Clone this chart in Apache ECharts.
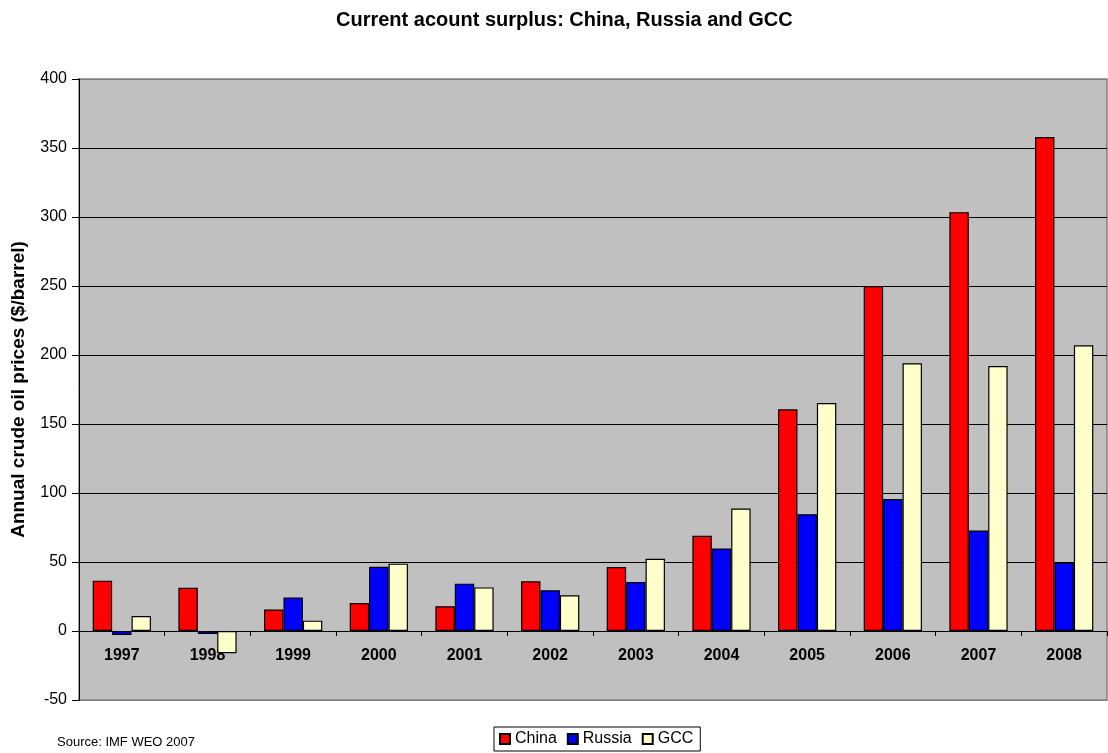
<!DOCTYPE html>
<html>
<head>
<meta charset="utf-8">
<script src="https://cdn.jsdelivr.net/npm/echarts@6/dist/echarts.min.js"></script>
<style>
  html, body { margin: 0; padding: 0; background: #fff; }
  #chart { width: 1108px; height: 753px; }
</style>
</head>
<body>
<div id="chart"></div>
<script>
const years = ['1997','1998','1999','2000','2001','2002','2003','2004','2005','2006','2007','2008'];
const china  = [36.5, 31.3, 15.6, 20.2, 17.9, 36, 46.3, 69, 160.6, 250, 303.5, 358];
const russia = [-2.9, -2.2, 24.3, 46.6, 34.3, 29.5, 35.5, 59.8, 84.6, 95.7, 72.8, 49.6];
const gcc    = [10.8, -16.1, 7.5, 48.8, 31.6, 25.9, 52.3, 88.7, 165.2, 194, 192, 207];
const seriesNames = ['China', 'Russia', 'GCC'];
const seriesColors = ['#FF0000', '#0000FF', '#FFFFCC'];
const yTicks = { min: -50, max: 400, step: 50 };

const FONT = '"Liberation Sans", Arial, sans-serif';
const chart = echarts.init(document.getElementById('chart'), null, { renderer: 'canvas' });

const GRID = { left: 79, right: 1, top: 79, bottom: 53 };

const nLines = (yTicks.max - yTicks.min) / yTicks.step + 1;
const splitColors = [];
for (let i = 0; i < nLines; i++) splitColors.push(i === 0 || i === nLines - 1 ? '#808080' : '#000000');

const seriesData = [china, russia, gcc];
const option = {
  animation: false,
  backgroundColor: '#ffffff',
  textStyle: { fontFamily: FONT },
  title: {
    text: 'Current acount surplus: China, Russia and GCC',
    left: 331, top: 5,
    textStyle: { fontFamily: FONT, fontSize: 20, fontWeight: 'bold', color: '#000' }
  },
  graphic: [{
    type: 'text', left: 57, top: 736,
    style: { text: 'Source: IMF WEO 2007', font: '13px ' + FONT, fill: '#000' }
  }],
  legend: {
    data: seriesNames,
    left: 494, top: 727,
    orient: 'horizontal',
    icon: 'rect',
    itemWidth: 10, itemHeight: 10, itemGap: 10,
    padding: [4, 7, 4, 5],
    borderColor: '#000', borderWidth: 1,
    backgroundColor: '#fff',
    textStyle: { fontFamily: FONT, fontSize: 16, color: '#000' }
  },
  grid: {
    left: GRID.left, right: GRID.right, top: GRID.top, bottom: GRID.bottom,
    containLabel: false,
    outerBoundsMode: 'none',
    show: true, backgroundColor: '#C0C0C0',
    borderColor: '#808080', borderWidth: 1.5
  },
  xAxis: {
    type: 'category',
    data: years,
    axisLine: { onZero: true, lineStyle: { color: '#000', width: 1.2 } },
    axisTick: { show: true, length: 5, inside: false, lineStyle: { color: '#000' } },
    axisLabel: { margin: 17, fontFamily: FONT, fontSize: 16, fontWeight: 'bold', color: '#000' },
    splitLine: { show: false }
  },
  yAxis: {
    type: 'value',
    min: yTicks.min, max: yTicks.max, interval: yTicks.step,
    name: 'Annual crude oil prices ($/barrel)',
    nameLocation: 'middle', nameRotate: 90, nameGap: 51,
    nameTextStyle: { fontFamily: FONT, fontSize: 19, fontWeight: 'bold', color: '#000' },
    axisLine: { show: true, lineStyle: { color: '#000', width: 1 } },
    axisTick: { show: true, length: 7, lineStyle: { color: '#000' } },
    axisLabel: { margin: 12, fontFamily: FONT, fontSize: 16, color: '#000' },
    splitLine: { show: true, lineStyle: { color: splitColors, width: 1 } }
  },
  series: seriesNames.map((name, i) => ({
    name: name,
    type: 'bar',
    data: seriesData[i],
    barGap: '0%',
    barCategoryGap: '32%',
    itemStyle: { color: seriesColors[i], borderColor: '#000', borderWidth: 1.2 }
  }))
};
chart.setOption(option);

// The x-axis line sits on the zero value; keep its labels just below that line too.
const zeroPx = chart.convertToPixel({ yAxisIndex: 0 }, 0);
const bottomPx = chart.convertToPixel({ yAxisIndex: 0 }, yTicks.min);
chart.setOption({ xAxis: { axisLabel: { margin: 17 - (bottomPx - zeroPx) } } });
</script>
</body>
</html>
